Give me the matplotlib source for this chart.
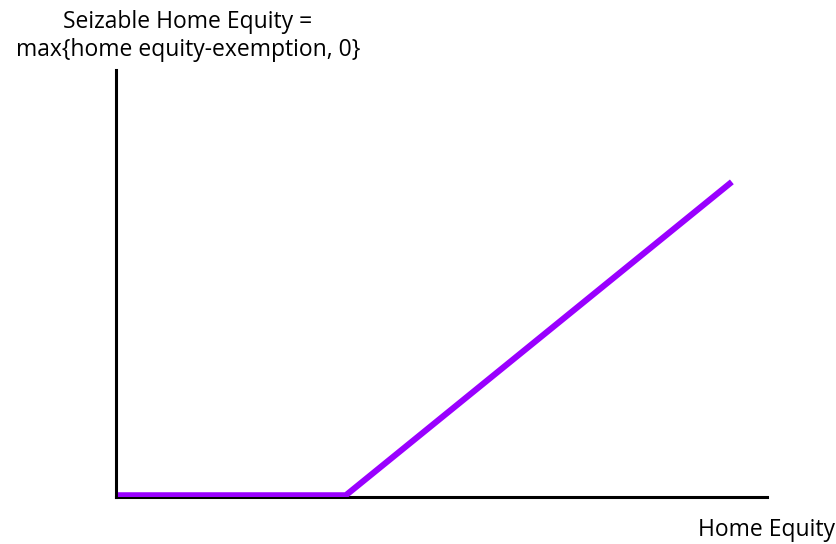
import matplotlib
matplotlib.use("Agg")
import matplotlib.pyplot as plt

plt.rcParams['font.family'] = ['Open Sans', 'DejaVu Sans']

# kinked payoff: seizable equity = max(equity - exemption, 0)
home_equity = [0.3, 35.3, 94.6]
seizable = [0.4, 0.4, 73.8]

fig = plt.figure(figsize=(8.37, 5.44), dpi=100)
ax = fig.add_axes([116 / 837, 47 / 544, 651 / 837, 427 / 544])
ax.set_xlim(0, 100)
ax.set_ylim(0, 100)

ax.plot(home_equity, seizable, color='#9900ff', lw=4.4, solid_capstyle='butt', zorder=3)

for s in ['top', 'right']:
    ax.spines[s].set_visible(False)
for s in ['left', 'bottom']:
    ax.spines[s].set_linewidth(2.2)
ax.set_xticks([])
ax.set_yticks([])

fig.text(188 / 837, 1 - 36 / 544, 'Seizable Home Equity =\nmax{home equity-exemption, 0}',
         ha='center', va='center', fontsize=16.5, linespacing=1.2)
fig.text(835 / 837, 1 - 530 / 544, 'Home Equity', ha='right', va='center', fontsize=16.5)

fig.savefig('out.png', dpi=100)
